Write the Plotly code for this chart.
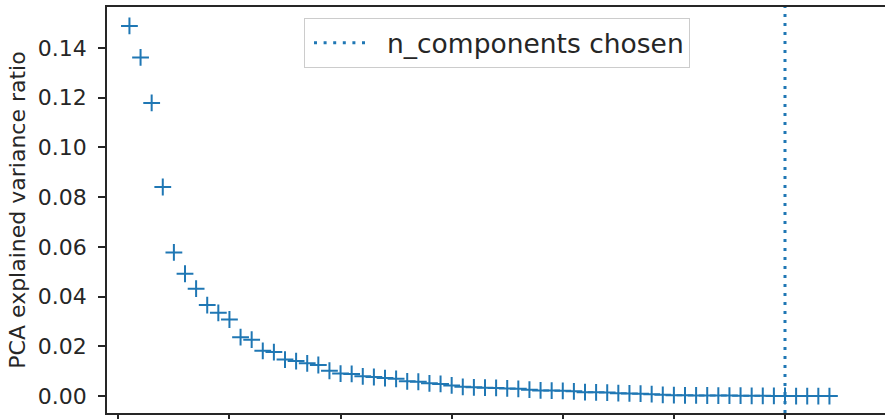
import numpy as np
import plotly.graph_objects as go

component_index = list(range(1, 65))
explained_variance_ratio = [
    0.1489, 0.1362, 0.1179, 0.0841, 0.0578, 0.0492, 0.0432, 0.0366, 0.0335, 0.0308,
    0.0237, 0.0227, 0.0182, 0.0177, 0.0147, 0.0141, 0.0132, 0.0125, 0.0102, 0.00906,
    0.00890, 0.00797, 0.00767, 0.00723, 0.00696, 0.00596, 0.00576, 0.00515, 0.00490, 0.00429,
    0.00374, 0.00353, 0.00337, 0.00328, 0.00308, 0.00294, 0.00257, 0.00228, 0.00223, 0.00211,
    0.00190, 0.00159, 0.00151, 0.00141, 0.00117, 0.00107, 0.00096, 0.00077, 0.00053, 0.00035,
    0.00031, 0.00028, 0.00023, 0.00022, 0.00020, 0.00015, 0.00012, 0.00009, 0.00006, 0.00004,
    0.00002, 0.0, 0.0, 0.0,
]
n_components_chosen = 60
x_ticks = [0, 10, 20, 30, 40, 50, 60]
y_ticks = [0.00, 0.02, 0.04, 0.06, 0.08, 0.10, 0.12, 0.14]
legend_label = "n_components chosen"
y_title = "PCA explained variance ratio"

blue = "#1f77b4"
ink = "#262626"
legend_dash = "0px,4px," + "3px,6.6px," * 5 + "3px,40px"

fig = go.Figure()
fig.add_trace(go.Scatter(
    x=component_index, y=explained_variance_ratio, mode="markers",
    marker=dict(symbol="cross-thin", size=12, line=dict(color=blue, width=2)),
    showlegend=False,
))
fig.add_trace(go.Scatter(
    x=[None], y=[None], mode="lines", name=legend_label,
    line=dict(color=blue, width=3, dash=legend_dash),
))
fig.add_shape(type="line", xref="x", yref="paper",
              x0=n_components_chosen, x1=n_components_chosen, y0=0, y1=1,
              line=dict(color=blue, width=3, dash="3px,6px"))

fig.update_layout(
    width=885, height=419,
    margin=dict(l=107, r=0, t=7, b=6, autoexpand=False),
    plot_bgcolor="white", paper_bgcolor="white",
    font=dict(family="DejaVu Sans", color=ink, size=22),
    showlegend=True,
    legend=dict(x=(304 - 107) / 778, y=(413 - 18) / 406, xanchor="left", yanchor="top",
                xref="paper", yref="paper",
                bordercolor="#cccccc", borderwidth=1, bgcolor="white",
                font=dict(size=26.5, color=ink), itemwidth=72),
)
fig.update_xaxes(
    range=[-1.02, 69.0], tickvals=x_ticks, showticklabels=False, automargin=False,
    ticks="outside", ticklen=7, tickwidth=1.5, tickcolor=ink,
    showline=True, linecolor=ink, linewidth=1.5, mirror=True,
    showgrid=False, zeroline=False,
)
fig.update_yaxes(
    range=[-0.0068, 0.1565], tickvals=y_ticks, tickformat=".2f", automargin=False,
    ticks="outside", ticklen=7, tickwidth=1.5, tickcolor=ink, ticklabelstandoff=7,
    showline=True, linecolor=ink, linewidth=1.5, mirror=False,
    showgrid=False, zeroline=False,
    title=dict(text=y_title, standoff=6, font=dict(size=22)),
)
fig.write_html(
    "out.html",
    config={"displayModeBar": False},
    post_script="document.body.style.margin='0';document.body.style.overflow='hidden';",
)
